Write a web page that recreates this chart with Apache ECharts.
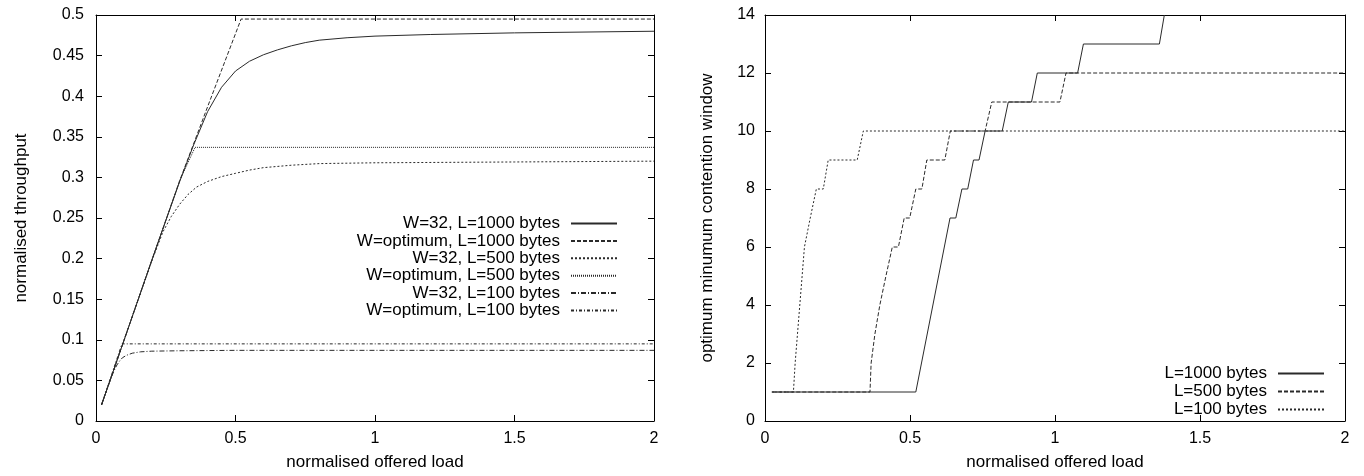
<!DOCTYPE html>
<html>
<head>
<meta charset="utf-8">
<script src="https://cdn.jsdelivr.net/npm/echarts@6/dist/echarts.min.js"></script>
<style>
html,body{margin:0;padding:0;background:#fff;}
#chart{width:1364px;height:476px;}
</style>
</head>
<body>
<div id="chart"></div>
<script>
// ---------- data ----------
const leftXTicks = [0, 0.5, 1, 1.5, 2];
const leftYTicks = [0, 0.05, 0.1, 0.15, 0.2, 0.25, 0.3, 0.35, 0.4, 0.45, 0.5];
const rightXTicks = [0, 0.5, 1, 1.5, 2];
const rightYTicks = [0, 2, 4, 6, 8, 10, 12, 14];

const leftNames = [
  'W=32, L=1000 bytes',
  'W=optimum, L=1000 bytes',
  'W=32, L=500 bytes',
  'W=optimum, L=500 bytes',
  'W=32, L=100 bytes',
  'W=optimum, L=100 bytes'
];
const rightNames = ['L=1000 bytes', 'L=500 bytes', 'L=100 bytes'];

// left panel: normalised throughput vs normalised offered load
const w32L1000X = [0.02,0.1,0.2,0.3,0.35,0.4,0.45,0.5,0.55,0.6,0.65,0.7,0.75,0.8,0.9,1.0,1.2,1.5,2.0];
const w32L1000Y = [0.02,0.099,0.198,0.295,0.34,0.381,0.411,0.431,0.443,0.451,0.457,0.462,0.466,0.469,0.472,0.474,0.476,0.478,0.48];
const optL1000X = [0.02,0.1,0.2,0.3,0.4,0.52,2.0];
const optL1000Y = [0.02,0.099,0.198,0.296,0.387,0.495,0.495];
const w32L500X = [0.02,0.1,0.2,0.24,0.27,0.3,0.33,0.36,0.4,0.45,0.5,0.55,0.6,0.7,0.8,1.0,1.5,2.0];
const w32L500Y = [0.02,0.099,0.197,0.233,0.252,0.267,0.279,0.288,0.295,0.301,0.305,0.309,0.312,0.315,0.317,0.318,0.319,0.32];
const optL500X = [0.02,0.1,0.2,0.3,0.355,2.0];
const optL500Y = [0.02,0.099,0.198,0.296,0.337,0.337];
const w32L100X = [0.02,0.04,0.055,0.065,0.075,0.085,0.095,0.11,0.13,0.16,0.2,0.3,0.5,2.0];
const w32L100Y = [0.02,0.04,0.054,0.062,0.069,0.074,0.078,0.081,0.0835,0.0852,0.086,0.0865,0.087,0.087];
const optL100X = [0.02,0.093,2.0];
const optL100Y = [0.02,0.095,0.095];

// right panel: optimum minimum contention window vs normalised offered load
const cwL1000X = [0.025,0.52,0.638,0.658,0.679,0.699,0.719,0.738,0.759,0.818,0.839,0.919,0.939,1.078,1.098,1.36,1.377];
const cwL1000Y = [1,1,7,7,8,8,9,9,10,10,11,11,12,12,13,13,14];
const cwL500X = [0.025,0.362,0.366,0.379,0.396,0.417,0.439,0.46,0.48,0.499,0.52,0.541,0.558,0.62,0.639,0.759,0.782,1.017,1.038,2.0];
const cwL500Y = [1,1,2,3,4,5,6,6,7,7,8,8,9,9,10,10,11,11,12,12];
const cwL100X = [0.023,0.098,0.104,0.112,0.12,0.128,0.136,0.156,0.177,0.201,0.218,0.318,0.339,2.0];
const cwL100Y = [1,1,2,3,4,5,6,7,8,8,9,9,10,10];

// ---------- chart ----------
const FONT = '"Liberation Sans", Arial, Helvetica, sans-serif';
const INK = '#000';
const LINE = '#2a2a2a';

function zip(xs, ys) { return xs.map((x, i) => [x, ys[i]]); }

function axisBase(ticks, opts) {
  const n = ticks.length;
  return Object.assign({
    type: 'value',
    min: ticks[0],
    max: ticks[n - 1],
    interval: ticks[1] - ticks[0],
    splitLine: { show: false },
    axisLine: { show: true, onZero: false, lineStyle: { color: INK, width: 1 } },
    axisTick: { show: true, inside: true, length: 6, lineStyle: { color: INK, width: 1 } },
    axisLabel: { show: true, color: INK, fontFamily: FONT, fontSize: 16 }
  }, opts);
}
function mirror(ticks, opts) {
  const a = axisBase(ticks, opts);
  a.axisLabel = { show: false };
  return a;
}

const leftGrid = { left: 96, right: 710, top: 15, bottom: 55 };
const rightGrid = { left: 765, right: 19, top: 15, bottom: 55 };

const nameStyle = { color: INK, fontFamily: FONT, fontSize: 17 };

const xAxes = [
  axisBase(leftXTicks, { gridIndex: 0, position: 'bottom', axisLabel: { color: INK, fontFamily: FONT, fontSize: 16, margin: 10 },
    name: 'normalised offered load', nameLocation: 'middle', nameGap: 33, nameTextStyle: nameStyle }),
  mirror(leftXTicks, { gridIndex: 0, position: 'top' }),
  axisBase(rightXTicks, { gridIndex: 1, position: 'bottom', axisLabel: { color: INK, fontFamily: FONT, fontSize: 16, margin: 10 },
    name: 'normalised offered load', nameLocation: 'middle', nameGap: 33, nameTextStyle: nameStyle }),
  mirror(rightXTicks, { gridIndex: 1, position: 'top' })
];
const yAxes = [
  axisBase(leftYTicks, { gridIndex: 0, position: 'left', axisLabel: { color: INK, fontFamily: FONT, fontSize: 16, margin: 12 },
    name: 'normalised throughput', nameLocation: 'middle', nameGap: 66, nameTextStyle: nameStyle }),
  mirror(leftYTicks, { gridIndex: 0, position: 'right' }),
  axisBase(rightYTicks, { gridIndex: 1, position: 'left', axisLabel: { color: INK, fontFamily: FONT, fontSize: 16, margin: 10 },
    name: 'optimum minumum contention window', nameLocation: 'middle', nameGap: 49, nameTextStyle: nameStyle }),
  mirror(rightYTicks, { gridIndex: 1, position: 'right' })
];

function line(name, data, xi, yi, type) {
  return {
    name: name,
    type: 'line',
    xAxisIndex: xi,
    yAxisIndex: yi,
    data: data,
    symbol: 'none',
    showSymbol: false,
    clip: true,
    silent: true,
    lineStyle: { color: LINE, width: 1, type: type },
    itemStyle: { color: LINE }
  };
}

const series = [
  line(leftNames[0], zip(w32L1000X, w32L1000Y), 0, 0, 'solid'),
  line(leftNames[1], zip(optL1000X, optL1000Y), 0, 0, [4, 2]),
  line(leftNames[2], zip(w32L500X, w32L500Y), 0, 0, [2, 2]),
  line(leftNames[3], zip(optL500X, optL500Y), 0, 0, [1, 1]),
  line(leftNames[4], zip(w32L100X, w32L100Y), 0, 0, [5, 2, 1, 2]),
  line(leftNames[5], zip(optL100X, optL100Y), 0, 0, [3, 2, 1, 2]),
  line(rightNames[0], zip(cwL1000X, cwL1000Y), 2, 2, 'solid'),
  line(rightNames[1], zip(cwL500X, cwL500Y), 2, 2, [4, 2]),
  line(rightNames[2], zip(cwL100X, cwL100Y), 2, 2, [2, 2])
];

const legendText = { color: INK, fontFamily: FONT, fontSize: 17, lineHeight: 16, padding: [0, 6, 0, 0] };
const hiddenSymbol = { opacity: 0, color: 'rgba(0,0,0,0)', borderColor: 'rgba(0,0,0,0)', borderWidth: 0 };

const option = {
  animation: false,
  backgroundColor: '#fff',
  grid: [leftGrid, rightGrid],
  xAxis: xAxes,
  yAxis: yAxes,
  legend: [
    {
      data: leftNames,
      orient: 'vertical',
      align: 'right',
      right: 746,
      top: 215,
      itemWidth: 46,
      itemHeight: 10,
      itemGap: 0.4,
      selectedMode: false,
      padding: 0,
      itemStyle: hiddenSymbol,
      textStyle: legendText
    },
    {
      data: rightNames,
      orient: 'vertical',
      align: 'right',
      right: 39,
      top: 365,
      itemWidth: 46,
      itemHeight: 10,
      itemGap: 1,
      selectedMode: false,
      padding: 0,
      itemStyle: hiddenSymbol,
      textStyle: legendText
    }
  ],
  series: series
};

const chart = echarts.init(document.getElementById('chart'), null, { renderer: 'canvas' });
chart.setOption(option);
</script>
</body>
</html>
